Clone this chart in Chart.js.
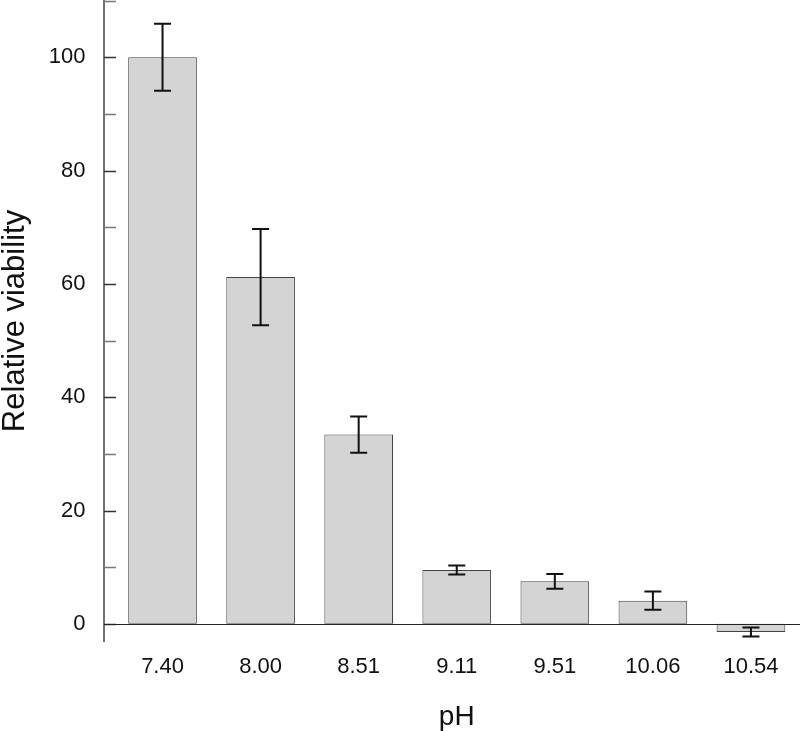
<!DOCTYPE html>
<html>
<head>
<meta charset="utf-8">
<script src="https://cdn.jsdelivr.net/npm/chart.js@4.4.1/dist/chart.umd.min.js"></script>
<style>
  body { margin: 0; background: #fff; }
  canvas { display: block; }
</style>
</head>
<body>
<canvas id="chart" width="800" height="731"></canvas>
<script>
// pH categories and measured viability (mean +/- error)
const phLabels = ['7.40', '8.00', '8.51', '9.11', '9.51', '10.06', '10.54'];
const viability = [100, 61.2, 33.4, 9.5, 7.5, 4.1, -1.45];
const viabilityErr = [5.9, 8.5, 3.2, 0.8, 1.3, 1.6, 0.8];
const yTickValues = [0, 20, 40, 60, 80, 100];
const yMinorTicks = [0, 10, 20, 30, 40, 50, 60, 70, 80, 90, 100, 110];

const FONT = '"Liberation Sans", Arial, sans-serif';

// error bars drawn on top of each bar
const errorBars = {
    id: 'errorBars',
    afterDatasetsDraw(chart) {
        const ctx = chart.ctx;
        const y = chart.scales.y;
        const meta = chart.getDatasetMeta(0);
        ctx.save();
        ctx.strokeStyle = '#111';
        ctx.lineWidth = 2;
        meta.data.forEach((bar, i) => {
            const top = y.getPixelForValue(viability[i] + viabilityErr[i]);
            const bottom = y.getPixelForValue(viability[i] - viabilityErr[i]);
            const half = 8.5;
            ctx.beginPath();
            ctx.moveTo(bar.x, top);
            ctx.lineTo(bar.x, bottom);
            ctx.moveTo(bar.x - half, top);
            ctx.lineTo(bar.x + half, top);
            ctx.moveTo(bar.x - half, bottom);
            ctx.lineTo(bar.x + half, bottom);
            ctx.stroke();
        });
        ctx.restore();
    }
};

// y axis line sits a little left of the plot, ticks point inward; zero line
const axisLines = {
    id: 'axisLines',
    afterDatasetsDraw(chart) {
        const ctx = chart.ctx;
        const area = chart.chartArea;
        const y = chart.scales.y;
        const axisX = area.left - 9.5;
        ctx.save();
        ctx.strokeStyle = '#444';
        ctx.lineWidth = 1.5;
        ctx.beginPath();
        ctx.moveTo(axisX, area.top);
        ctx.lineTo(axisX, area.bottom);
        ctx.stroke();

        yMinorTicks.forEach(v => {
            const py = Math.round(y.getPixelForValue(v)) + 0.5;
            ctx.strokeStyle = v % 20 === 0 ? '#333' : '#777';
            ctx.lineWidth = 1.5;
            ctx.beginPath();
            ctx.moveTo(axisX, py);
            ctx.lineTo(axisX + 12, py);
            ctx.stroke();
        });

        const zy = Math.round(y.getPixelForValue(0)) + 0.5;
        ctx.strokeStyle = '#222';
        ctx.lineWidth = 1.2;
        ctx.beginPath();
        ctx.moveTo(axisX, zy);
        ctx.lineTo(area.right, zy);
        ctx.stroke();
        ctx.restore();
    }
};

new Chart(document.getElementById('chart'), {
    type: 'bar',
    data: {
        labels: phLabels,
        datasets: [{
            data: viability,
            backgroundColor: '#d4d4d4',
            borderColor: '#444',
            borderWidth: 1,
            borderSkipped: false,
            barPercentage: 0.7,
            categoryPercentage: 1.0
        }]
    },
    options: {
        responsive: false,
        animation: false,
        devicePixelRatio: 1,
        layout: { padding: 0 },
        plugins: {
            legend: { display: false },
            tooltip: { enabled: false }
        },
        scales: {
            x: {
                afterFit: s => { s.height = 89; s.paddingLeft = 0; s.paddingRight = 0; },
                grid: { display: false, drawTicks: false },
                border: { display: false },
                ticks: {
                    color: '#111',
                    font: { family: FONT, size: 22 },
                    padding: 12
                },
                title: {
                    display: true,
                    text: 'pH',
                    color: '#111',
                    font: { family: FONT, size: 28, lineHeight: 1 },
                    padding: 0
                }
            },
            y: {
                min: -3.2,
                max: 110.1,
                afterFit: s => { s.width = 113.5; s.paddingTop = 0; s.paddingBottom = 0; },
                afterBuildTicks: s => { s.ticks = yTickValues.map(v => ({ value: v })); },
                grid: { display: false, drawTicks: false },
                border: { display: false },
                ticks: {
                    color: '#111',
                    font: { family: FONT, size: 22 },
                    padding: 28
                },
                title: {
                    display: true,
                    text: 'Relative viability',
                    color: '#111',
                    font: { family: FONT, size: 31, lineHeight: 1 },
                    padding: 0
                }
            }
        }
    },
    plugins: [errorBars, axisLines]
});
</script>
</body>
</html>
